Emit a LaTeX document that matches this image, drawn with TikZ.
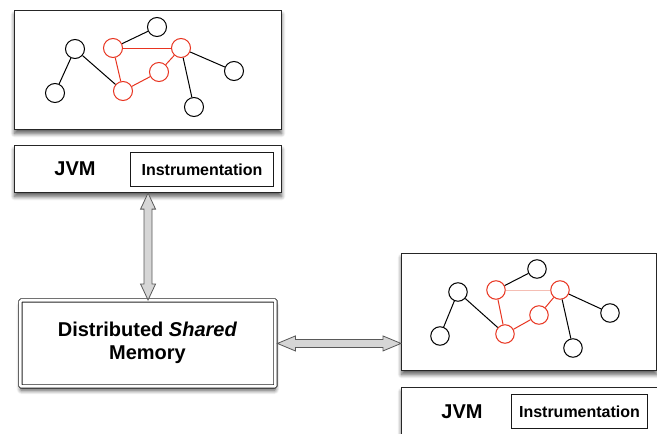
\documentclass[tikz,border=0pt]{standalone}
\usepackage{fontspec}
\setmainfont{Liberation Sans}
\usetikzlibrary{shadows.blur,calc}
\definecolor{nred}{RGB}{232,52,32}
\definecolor{palered}{RGB}{245,190,180}
\definecolor{arrowfill}{RGB}{214,214,214}
\begin{document}
\begin{tikzpicture}[x=1pt,y=-1pt,
 shd/.style={blur shadow={shadow xshift=0pt, shadow yshift=-4pt, shadow blur steps=8, shadow blur radius=4pt, shadow opacity=65}},
 box/.style={draw=black!85, line width=1.1pt, fill=white, rectangle, inner sep=0pt, anchor=north west, shd},
 instbox/.style={draw=black!90, line width=1pt, fill=white, rectangle, inner sep=0pt, anchor=north west},
 jvmtext/.style={font=\fontsize{20}{22}\selectfont\bfseries, inner sep=0pt},
 insttext/.style={font=\fontsize{16}{18}\selectfont\bfseries, inner sep=0pt},
 gn/.style={circle, draw=black, line width=1pt, minimum size=19pt, inner sep=0pt, fill=white},
 rn/.style={gn, draw=nred},
 bl/.style={draw=black, line width=1pt},
 rl/.style={draw=nred, line width=1pt},
 pl/.style={draw=palered, line width=1pt},
 fat/.style={draw=black!65, fill=arrowfill, line width=0.8pt, line join=miter}]

\useasboundingbox (0,0) rectangle (657,434);

% ---------- top-left graph box ----------
\node[box, minimum width=267pt, minimum height=119pt] (g1) at (14,10) {};
\node[gn] (a1) at (75,49) {};
\node[gn] (b1) at (55,93) {};
\node[gn] (c1) at (157,27) {};
\node[rn] (r11) at (113,48) {};
\node[rn] (r21) at (181,48) {};
\node[rn] (r31) at (159,72) {};
\node[rn] (r41) at (123,91) {};
\node[gn] (d1) at (234,71) {};
\node[gn] (e1) at (194,107) {};
\draw[bl] (a1) -- (b1);
\draw[bl] (a1) -- (r41);
\draw[bl] (c1) -- (r11);
\draw[bl] (r21) -- (d1);
\draw[bl] (r21) -- (e1);
\draw[rl] (r11) -- (r21);
\draw[rl] (r11) -- (r41);
\draw[rl] (r41) -- (r31);
\draw[rl] (r31) -- (r21);

% ---------- top-left JVM box ----------
\node[box, minimum width=267pt, minimum height=47pt] (jvm1) at (14,145) {};
\node[jvmtext] (jvm1t) at (75,169) {JVM};
\node[instbox, minimum width=143pt, minimum height=34pt] (inst1) at (130,152) {};
\node[insttext] (inst1t) at (inst1.center) {Instrumentation};

% ---------- DSM box ----------
\node[draw=black!85, line width=0.9pt, double, double distance=2.5pt, fill=white, rectangle,
  rounded corners=1pt, inner sep=0pt,
  minimum width=255pt, minimum height=86pt, anchor=north west, shd] (dsm) at (20,300) {};
\node[font=\fontsize{20}{23}\selectfont\bfseries, align=center, inner sep=0pt] (dsmt) at (147.5,342.5)
  {Distributed \textit{Shared}\\Memory};

% ---------- right graph box ----------
\node[box, minimum width=255pt, minimum height=117pt] (g2) at (401,253) {};
\node[gn, minimum size=18.5pt] (a2) at (458,292) {};
\node[gn, minimum size=18.5pt] (b2) at (440,336) {};
\node[gn, minimum size=18.5pt] (c2) at (537,269) {};
\node[rn, minimum size=18.5pt] (r12) at (496,290) {};
\node[rn, minimum size=18.5pt] (r22) at (560,290) {};
\node[rn, minimum size=18.5pt] (r32) at (539,315) {};
\node[rn, minimum size=18.5pt] (r42) at (505,334) {};
\node[gn, minimum size=18.5pt] (d2) at (610,313) {};
\node[gn, minimum size=18.5pt] (e2) at (573,348) {};
\draw[bl] (a2) -- (b2);
\draw[bl] (a2) -- (r42);
\draw[bl] (c2) -- (r12);
\draw[bl] (r22) -- (d2);
\draw[bl] (r22) -- (e2);
\draw[pl] (r12) -- (r22);
\draw[rl] (r12) -- (r42);
\draw[rl] (r42) -- (r32);
\draw[rl] (r32) -- (r22);

% ---------- right JVM box ----------
\node[box, minimum width=259pt, minimum height=58pt] (jvm2) at (401,387) {};
\node[jvmtext] (jvm2t) at (462,412) {JVM};
\node[instbox, minimum width=136pt, minimum height=34pt] (inst2) at (511,394) {};
\node[insttext] (inst2t) at (inst2.center) {Instrumentation};

% ---------- fat double arrows ----------
\draw[fat] let \p1=(jvm1.south), \p2=(dsm.north) in
  (\x1,\y1) -- (\x1+7.5pt,\y1-16pt) -- (\x1+4pt,\y1-16pt) -- (\x1+4pt,\y2+16pt)
  -- (\x1+7.5pt,\y2+16pt) -- (\x1,\y2) -- (\x1-7.5pt,\y2+16pt) -- (\x1-4pt,\y2+16pt)
  -- (\x1-4pt,\y1-16pt) -- (\x1-7.5pt,\y1-16pt) -- cycle;
\draw[fat] let \p1=($(dsm.east)+(1.5pt,0)$), \p2=(g2.west |- dsm.east) in
  (\x1,\y1) -- (\x1+18pt,\y1+7.5pt) -- (\x1+18pt,\y1+4pt) -- (\x2-18pt,\y1+4pt)
  -- (\x2-18pt,\y1+7.5pt) -- (\x2,\y1) -- (\x2-18pt,\y1-7.5pt) -- (\x2-18pt,\y1-4pt)
  -- (\x1+18pt,\y1-4pt) -- (\x1+18pt,\y1-7.5pt) -- cycle;
\end{tikzpicture}
\end{document}
